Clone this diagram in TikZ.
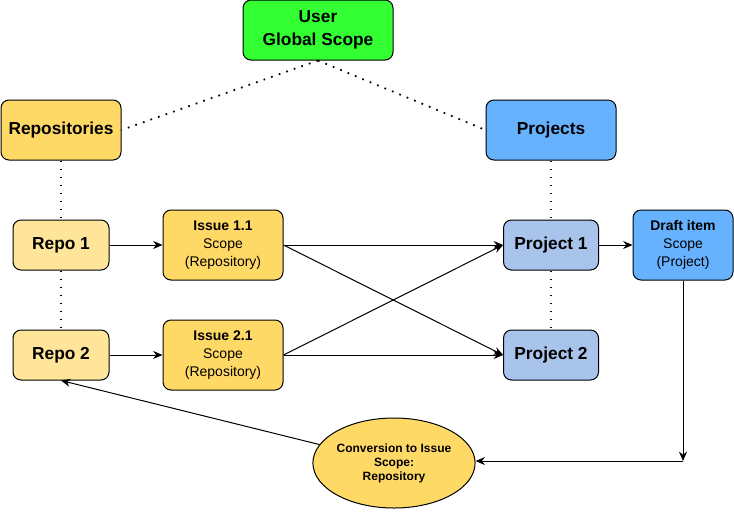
\documentclass[tikz,border=0pt]{standalone}
\usepackage{fontspec}
\setmainfont{Liberation Sans}
\usepackage{tikz}
\usetikzlibrary{positioning, shapes.geometric, arrows.meta}
\definecolor{UserGreen}{RGB}{51, 255, 51}
\definecolor{RepoGold}{RGB}{255, 217, 102}
\definecolor{RepoLight}{RGB}{255, 229, 153}
\definecolor{ProjBlue}{RGB}{102, 178, 255}
\definecolor{ProjLight}{RGB}{169, 196, 235}

\begin{document}
\begin{tikzpicture}[x=0.75pt, y=-0.75pt, line width=0.75pt,
    box/.style={draw, rounded corners=6pt, align=center, inner sep=0pt},
    bigbox/.style={box, font=\fontsize{13}{17}\selectfont\bfseries},
    scopebox/.style={box, font=\fontsize{10.5}{13.5}\selectfont,
      minimum width=90pt, minimum height=52.5pt},
    dots/.style={line width=1.3pt, dash pattern=on 1.3pt off 4.7pt},
    flow/.style={-{Stealth[length=7pt, width=6pt]}}]
    \useasboundingbox (0,0) rectangle (734,511);

    % Top level
    \node[bigbox, fill=UserGreen, minimum width=112.5pt, minimum height=45pt]
      (user) at (318, 30) {User\\Global Scope};
    \node[bigbox, fill=RepoGold, minimum width=90pt, minimum height=45pt]
      (repos) at (61, 130) {Repositories};
    \node[bigbox, fill=ProjBlue, minimum width=97.5pt, minimum height=45pt]
      (projects) at (551, 130) {Projects};

    % Repositories and issues
    \node[bigbox, fill=RepoLight, minimum width=72pt, minimum height=37.5pt]
      (repo1) at (61, 245) {Repo 1};
    \node[bigbox, fill=RepoLight, minimum width=72pt, minimum height=37.5pt]
      (repo2) at (61, 355) {Repo 2};
    \node[scopebox, fill=RepoGold] (issue1) at (223, 245)
      {\textbf{Issue 1.1}\\Scope\\(Repository)};
    \node[scopebox, fill=RepoGold] (issue2) at (223, 355)
      {\textbf{Issue 2.1}\\Scope\\(Repository)};

    % Projects and draft item
    \node[bigbox, fill=ProjLight, minimum width=71.25pt, minimum height=37.5pt]
      (proj1) at (551, 245) {Project 1};
    \node[bigbox, fill=ProjLight, minimum width=71.25pt, minimum height=37.5pt]
      (proj2) at (551, 355) {Project 2};
    \node[scopebox, fill=ProjBlue, minimum width=75pt] (draft) at (683, 245)
      {\textbf{Draft item}\\Scope\\(Project)};

    % Conversion
    \node[draw, ellipse, fill=RepoGold, align=center, inner sep=0pt,
      minimum width=120.75pt, minimum height=67.5pt,
      font=\fontsize{9}{10.5}\selectfont\bfseries]
      (conv) at (394, 463) {Conversion to Issue\\Scope:\\Repository};
    \coordinate (corner) at (683, 461);

    % Scope links
    \draw[dots] (user.south) -- (repos.east);
    \draw[dots] (user.south) -- (projects.west);
    \draw[dots] (repos.south) -- (repo1.north);
    \draw[dots] (repo1.south) -- (repo2.north);
    \draw[dots] (projects.south) -- (proj1.north);
    \draw[dots] (proj1.south) -- (proj2.north);

    % Flow
    \draw[flow] (repo1) -- (issue1);
    \draw[flow] (repo2) -- (issue2);
    \draw[flow] (issue1.east) -- (proj1.west);
    \draw[flow] (issue1.east) -- (proj2.west);
    \draw[flow] (issue2.east) -- (proj1.west);
    \draw[flow] (issue2.east) -- (proj2.west);
    \draw[flow] (proj1) -- (draft);
    \draw[flow] (draft.south) -- (corner);
    \draw[flow] (corner) -- (corner -| conv.east);
    \draw[flow] (conv) -- (repo2.south);
  \end{tikzpicture}
\end{document}
